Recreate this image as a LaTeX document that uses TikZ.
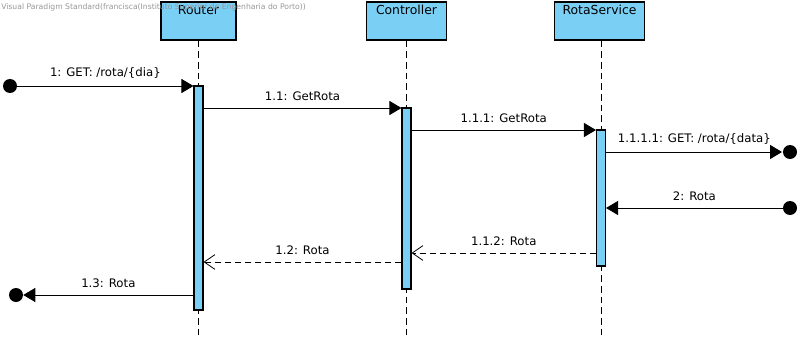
\documentclass[tikz,border=0pt]{standalone}
\usepackage{fontspec}
\setmainfont{DejaVu Sans}
\usetikzlibrary{arrows.meta}
\definecolor{actfill}{RGB}{122,207,245}
\definecolor{wmgray}{RGB}{150,150,150}
\tikzset{
  lifebox/.style={draw=black, fill=actfill, line width=0.9pt, minimum width=#1, minimum height=28.5pt, inner sep=0pt},
  boxtitle/.style={anchor=north, inner sep=0pt, yshift=-2.5pt, font=\fontsize{9.3}{10}\selectfont},
  actbar/.style={draw=black, fill=actfill, line width=0.8pt, minimum width=6.75pt, inner sep=0pt},
  lifeline/.style={draw=black, line width=0.7pt, dash pattern=on 5pt off 3pt},
  endpoint/.style={circle, fill=black, minimum size=10.5pt, inner sep=0pt},
  msg/.style={draw=black, line width=0.7pt, -{Triangle[length=9pt,width=10.5pt]}},
  reply/.style={draw=black, line width=0.7pt, dash pattern=on 4.5pt off 3pt, -{Straight Barb[length=8pt,width=11pt,line width=0.6pt]}},
  msglabel/.style={font=\fontsize{8.8}{10}\selectfont, inner sep=0pt, above=5pt},
}
\begin{document}
\begin{tikzpicture}[x=0.75pt,y=-0.75pt]
\useasboundingbox (0,0) rectangle (804,336);

% lifeline heads
\node[lifebox=56.25pt] (router) at (198.5,21) {};
\node[lifebox=60pt] (ctrl) at (406.5,21) {};
\node[lifebox=67pt] (rota) at (599.5,21) {};
\node[boxtitle] at (router.north) {Router};
\node[boxtitle] at (ctrl.north) {Controller};
\node[boxtitle] at (rota.north) {RotaService};

% lifelines
\coordinate (routerEnd) at (198.5,336);
\coordinate (ctrlEnd) at (406.5,336);
\coordinate (rotaEnd) at (601,336);
\draw[lifeline] (router.south) -- (routerEnd);
\draw[lifeline] (ctrl.south -| ctrlEnd) -- (ctrlEnd);
\draw[lifeline] (rota.south -| rotaEnd) -- (rotaEnd);

% activation bars
\node[actbar, minimum height=168pt] (actR) at (198.5,198) {};
\node[actbar, minimum height=135.75pt] (actC) at (406.5,198.5) {};
\node[actbar, minimum height=102pt] (actS) at (601,198) {};

% found / lost message end points
\node[endpoint] (start) at (10,86) {};
\node[endpoint] (lost) at (790,152) {};
\node[endpoint] (found) at (790,208) {};
\node[endpoint] (finish) at (16,295) {};

% watermark
\node[anchor=north west, inner sep=0pt, text=wmgray, font=\fontsize{5.75}{6}\selectfont] at (1,3) {Visual Paradigm Standard(francisca(Instituto Superior de Engenharia do Porto))};

% messages
\draw[msg] (start) -- (start -| actR.west) node[msglabel, midway] {1: GET: /rota/\{dia\}};
\coordinate (m11) at (actR.east |- 0,108);
\draw[msg] (m11) -- (m11 -| actC.west) node[msglabel, midway] {1.1: GetRota};
\coordinate (m111) at (actC.east |- 0,130);
\draw[msg] (m111) -- (m111 -| actS.west) node[msglabel, midway] {1.1.1: GetRota};
\draw[msg, shorten >=0.5pt] (actS.east |- lost) -- (lost.west) node[msglabel, midway] {1.1.1.1: GET: /rota/\{data\}};
\draw[msg] (found) -- (found -| actS.east) node[msglabel, midway] {2: Rota};
\coordinate (r112) at (actS.west |- 0,253);
\draw[reply] (r112) -- (r112 -| actC.east) node[msglabel, midway] {1.1.2: Rota};
\coordinate (r12) at (actC.west |- 0,262);
\draw[reply] (r12) -- (r12 -| actR.east) node[msglabel, midway] {1.2: Rota};
\draw[msg] (actR.west |- finish) -- (finish.east) node[msglabel, midway] {1.3: Rota};
\end{tikzpicture}
\end{document}
